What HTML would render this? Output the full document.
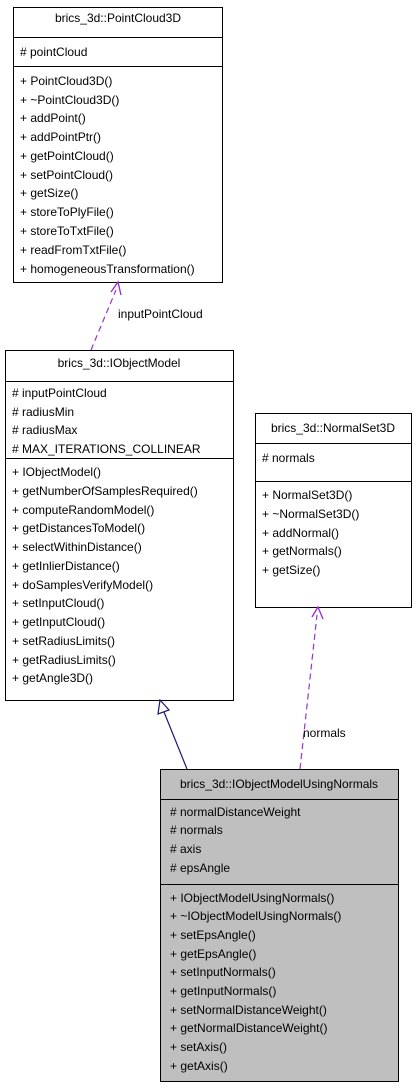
<!DOCTYPE html>
<html><head><style>body{margin:0;background:#fff}svg{display:block}text{font-family:"Liberation Sans",sans-serif;font-size:12px;fill:#000}</style></head><body>
<svg width="416" height="1088" viewBox="0 0 416 1088">
<g stroke="#000" fill="#fff" stroke-width="1">
<rect x="13.5" y="7.5" width="209" height="275"/>
<line x1="13" y1="37.5" x2="222" y2="37.5"/><line x1="13" y1="66.5" x2="222" y2="66.5"/>
<rect x="5.5" y="350.5" width="228" height="350"/>
<line x1="5" y1="381.5" x2="233" y2="381.5"/><line x1="5" y1="458.5" x2="233" y2="458.5"/>
<rect x="255.5" y="413.5" width="156" height="194"/>
<line x1="255" y1="443.5" x2="411" y2="443.5"/><line x1="255" y1="481.5" x2="411" y2="481.5"/>
<rect x="160.5" y="769.5" width="238" height="312" fill="#bfbfbf"/>
<line x1="160" y1="799.5" x2="398" y2="799.5"/><line x1="160" y1="884.5" x2="398" y2="884.5"/>
</g>
<g stroke="#9a32cd" fill="none" stroke-width="1.2" stroke-dasharray="6,4">
<line x1="91" y1="350" x2="116" y2="290"/>
<line x1="300" y1="769" x2="317" y2="615"/>
</g>
<g stroke="#9a32cd" fill="none" stroke-width="1.4">
<polyline points="111,292 118,282 121,295"/>
<polyline points="312,617 318,607 323,619"/>
</g>
<line x1="187" y1="769" x2="164" y2="712" stroke="#191970" stroke-width="1.2"/>
<polygon points="160,700 158,714 169,710" fill="#fff" stroke="#191970" stroke-width="1.2"/>
<text x="118" y="22" text-anchor="middle">brics_3d::PointCloud3D</text>
<text x="20" y="56"># pointCloud</text>
<g>
<text x="20" y="85">+ PointCloud3D()</text><text x="20" y="104">+ ~PointCloud3D()</text><text x="20" y="122">+ addPoint()</text><text x="20" y="141">+ addPointPtr()</text><text x="20" y="160">+ getPointCloud()</text><text x="20" y="179">+ setPointCloud()</text><text x="20" y="197">+ getSize()</text><text x="20" y="216">+ storeToPlyFile()</text><text x="20" y="235">+ storeToTxtFile()</text><text x="20" y="254">+ readFromTxtFile()</text><text x="20" y="273">+ homogeneousTransformation()</text>
</g>
<text x="118" y="318">inputPointCloud</text>
<text x="119" y="367" text-anchor="middle">brics_3d::IObjectModel</text>
<text x="12" y="397"># inputPointCloud</text><text x="12" y="416"># radiusMin</text><text x="12" y="434"># radiusMax</text><text x="12" y="453"># MAX_ITERATIONS_COLLINEAR</text>
<text x="12" y="476">+ IObjectModel()</text><text x="12" y="495">+ getNumberOfSamplesRequired()</text><text x="12" y="514">+ computeRandomModel()</text><text x="12" y="532">+ getDistancesToModel()</text><text x="12" y="551">+ selectWithinDistance()</text><text x="12" y="570">+ getInlierDistance()</text><text x="12" y="589">+ doSamplesVerifyModel()</text><text x="12" y="607">+ setInputCloud()</text><text x="12" y="626">+ getInputCloud()</text><text x="12" y="645">+ setRadiusLimits()</text><text x="12" y="664">+ getRadiusLimits()</text><text x="12" y="682">+ getAngle3D()</text>
<text x="333" y="432" text-anchor="middle">brics_3d::NormalSet3D</text>
<text x="262" y="462"># normals</text>
<text x="262" y="499">+ NormalSet3D()</text><text x="262" y="518">+ ~NormalSet3D()</text><text x="262" y="537">+ addNormal()</text><text x="262" y="555">+ getNormals()</text><text x="262" y="574">+ getSize()</text>
<text x="303" y="737">normals</text>
<text x="279" y="788" text-anchor="middle">brics_3d::IObjectModelUsingNormals</text>
<text x="170" y="816"># normalDistanceWeight</text><text x="170" y="834"># normals</text><text x="170" y="853"># axis</text><text x="170" y="872"># epsAngle</text>
<text x="170" y="902">+ IObjectModelUsingNormals()</text><text x="170" y="920">+ ~IObjectModelUsingNormals()</text><text x="170" y="939">+ setEpsAngle()</text><text x="170" y="958">+ getEpsAngle()</text><text x="170" y="976">+ setInputNormals()</text><text x="170" y="995">+ getInputNormals()</text><text x="170" y="1014">+ setNormalDistanceWeight()</text><text x="170" y="1032">+ getNormalDistanceWeight()</text><text x="170" y="1051">+ setAxis()</text><text x="170" y="1070">+ getAxis()</text>
</svg>
</body></html>
